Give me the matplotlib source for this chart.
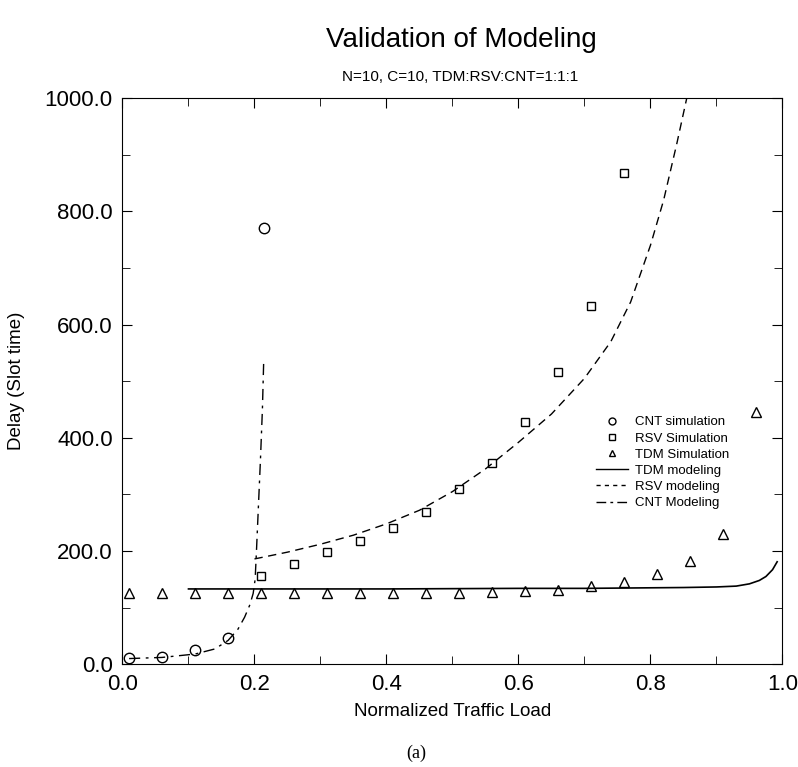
import matplotlib.pyplot as plt
from matplotlib.ticker import MultipleLocator, FormatStrFormatter
from matplotlib.lines import Line2D
from matplotlib.legend_handler import HandlerLine2D

plt.rcParams["font.family"] = ["Liberation Sans", "DejaVu Sans"]

# simulation points
load_sim = [0.01, 0.06, 0.11, 0.16, 0.21, 0.26, 0.31, 0.36, 0.41, 0.46,
            0.51, 0.56, 0.61, 0.66, 0.71, 0.76, 0.81, 0.86, 0.91, 0.96]
tdm_sim = [125, 125, 125, 125, 125, 125, 125, 125, 125, 125,
           126, 128, 130, 132, 138, 145, 160, 182, 230, 445]

cnt_load = [0.01, 0.06, 0.11, 0.16, 0.215]
cnt_sim = [11, 13, 25, 46, 770]

rsv_load = [0.21, 0.26, 0.31, 0.36, 0.41, 0.46, 0.51, 0.56, 0.61, 0.66, 0.71, 0.76]
rsv_sim = [156, 177, 198, 218, 240, 269, 309, 356, 428, 516, 633, 867]

# model curves
tdm_mod_x = [0.10, 0.2, 0.3, 0.4, 0.5, 0.6, 0.7, 0.8, 0.85, 0.9, 0.93, 0.95,
             0.965, 0.975, 0.985, 0.992]
tdm_mod_y = [133, 133, 133, 133, 133.5, 134, 134, 135, 135.5, 136.5, 138, 142,
             148, 155, 167, 181]

rsv_mod_x = [0.20, 0.25, 0.30, 0.35, 0.40, 0.45, 0.50, 0.55, 0.60, 0.65, 0.70,
             0.74, 0.77, 0.80, 0.82, 0.84, 0.855, 0.86]
rsv_mod_y = [186, 198, 212, 228, 248, 272, 305, 345, 392, 442, 505,
             570, 640, 740, 820, 920, 1000, 1040]

cnt_mod_x = [0.01, 0.06, 0.11, 0.14, 0.16, 0.175, 0.185, 0.193, 0.198, 0.201,
             0.203, 0.206, 0.209, 0.212, 0.214]
cnt_mod_y = [10, 12, 18, 27, 42, 62, 83, 105, 125, 150, 200, 280, 360, 450, 537]


class MarkerRight(HandlerLine2D):
    # legend symbol sits just left of the label, like the original
    def get_xdata(self, legend, xdescent, ydescent, width, height, fontsize):
        xdata, _ = super().get_xdata(legend, xdescent, ydescent, width, height, fontsize)
        return xdata, [-xdescent + width * 0.85]


fig = plt.figure(figsize=(7.98, 7.67), dpi=100)
ax = fig.add_axes([0.1535, 0.134, 0.827, 0.738])

ax.plot(cnt_load, cnt_sim, "o", mfc="none", mec="black", ms=7.5, mew=1.0)
ax.plot(rsv_load, rsv_sim, "s", mfc="none", mec="black", ms=5.5, mew=1.0)
ax.plot(load_sim, tdm_sim, "^", mfc="none", mec="black", ms=6.5, mew=1.0)
ax.plot(tdm_mod_x, tdm_mod_y, "-", color="black", lw=1.2)
ax.plot(rsv_mod_x, rsv_mod_y, color="black", lw=1.0, dashes=(6, 4))
ax.plot(cnt_mod_x, cnt_mod_y, color="black", lw=1.0, dashes=(8, 4, 2, 4))

ax.set_xlim(0, 1.0)
ax.set_ylim(0, 1000)
ax.xaxis.set_major_locator(MultipleLocator(0.2))
ax.xaxis.set_minor_locator(MultipleLocator(0.1))
ax.yaxis.set_major_locator(MultipleLocator(200))
ax.yaxis.set_minor_locator(MultipleLocator(100))
ax.xaxis.set_major_formatter(FormatStrFormatter("%.1f"))
ax.yaxis.set_major_formatter(FormatStrFormatter("%.1f"))
ax.tick_params(which="both", direction="in", top=True, right=True, labelsize=16)
ax.tick_params(which="major", length=7, pad=7)
ax.tick_params(which="minor", length=6)

ax.set_xlabel("Normalized Traffic Load", fontsize=13.5, labelpad=6)
ax.set_ylabel("Delay (Slot time)", fontsize=13.5, labelpad=14)

fig.text(0.578, 0.948, "Validation of Modeling", fontsize=20, ha="center", va="center")
fig.text(0.576, 0.9, "N=10, C=10, TDM:RSV:CNT=1:1:1", fontsize=11, ha="center", va="center")
fig.text(0.521, 0.018, "(a)", fontsize=13, family="Liberation Serif", ha="center", va="center")

handles = [
    Line2D([], [], ls="none", marker="o", mfc="none", mec="black", ms=5),
    Line2D([], [], ls="none", marker="s", mfc="none", mec="black", ms=4.5),
    Line2D([], [], ls="none", marker="^", mfc="none", mec="black", ms=5),
    Line2D([], [], color="black", lw=1.0),
    Line2D([], [], color="black", lw=1.0, dashes=(3, 3)),
    Line2D([], [], color="black", lw=1.0, dashes=(7, 3, 2, 3)),
]
labels = ["CNT simulation", "RSV Simulation", "TDM Simulation",
          "TDM modeling", "RSV modeling", "CNT Modeling"]
hmap = {h: MarkerRight() for h in handles[:3]}
ax.legend(handles, labels, loc="upper left", bbox_to_anchor=(0.708, 0.45),
          frameon=False, fontsize=9.5, handlelength=2.4, handletextpad=0.5,
          labelspacing=0.3, borderpad=0, handler_map=hmap)

fig.savefig("out.png", dpi=100)
